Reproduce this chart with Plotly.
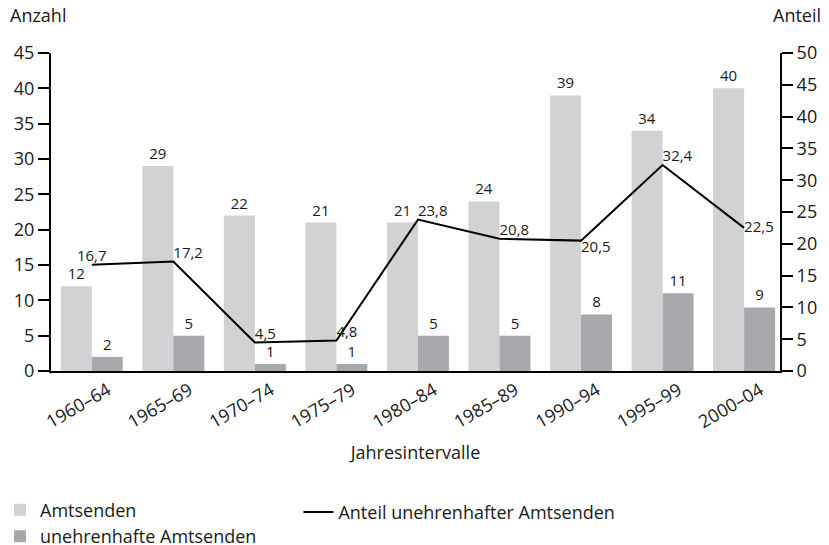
import plotly.graph_objects as go

categories = ["1960–64", "1965–69", "1970–74", "1975–79", "1980–84",
              "1985–89", "1990–94", "1995–99", "2000–04"]
amtsenden = [12, 29, 22, 21, 21, 24, 39, 34, 40]
unehrenhaft = [2, 5, 1, 1, 5, 5, 8, 11, 9]
anteil = [16.7, 17.2, 4.5, 4.8, 23.8, 20.8, 20.5, 32.4, 22.5]
anteil_textpos = ["top center", "top right", "top right", "top right", "top right",
                  "top right", "bottom right", "top right", "middle right"]
left_ticks = list(range(0, 50, 5))
right_ticks = list(range(0, 55, 5))

FONT = "Open Sans"
LIGHT = "#d1d2d4"
DARK = "#a7a8ac"

W, H = 829, 545
ML, MR, MT, MB = 51, 49, 53, 174
PW, PH = W - ML - MR, H - MT - MB


def px_to_paper_x(px):
    return (px - ML) / PW


def px_to_paper_y(py):
    return (H - MB - py) / PH


fig = go.Figure()
fig.add_trace(go.Bar(
    x=categories, y=amtsenden, name="Amtsenden",
    marker=dict(color=LIGHT, line=dict(width=0)),
    text=amtsenden, textposition="outside",
    textfont=dict(size=15, color="#1a1a1a", family=FONT),
    cliponaxis=False, legend="legend", legendrank=1,
))
fig.add_trace(go.Bar(
    x=categories, y=unehrenhaft, name="unehrenhafte Amtsenden",
    marker=dict(color=DARK, line=dict(width=0)),
    text=unehrenhaft, textposition="outside",
    textfont=dict(size=15, color="#1a1a1a", family=FONT),
    cliponaxis=False, legend="legend", legendrank=2,
))
fig.add_trace(go.Scatter(
    x=categories, y=anteil, name="Anteil unehrenhafter Amtsenden",
    yaxis="y2", mode="lines+text",
    line=dict(color="black", width=2),
    texttemplate="%{y:.1f}", textposition=anteil_textpos,
    textfont=dict(size=15, color="#1a1a1a", family=FONT),
    cliponaxis=False, legend="legend2",
))

axis_common = dict(
    showline=True, linecolor="black", linewidth=2,
    ticks="outside", ticklen=11, tickwidth=2, tickcolor="black",
    showgrid=False, zeroline=False, automargin=False,
    tickfont=dict(size=18, color="#1a1a1a", family=FONT),
)

fig.update_layout(
    width=W, height=H,
    margin=dict(l=ML, r=MR, t=MT, b=MB, autoexpand=False),
    paper_bgcolor="white", plot_bgcolor="white",
    font=dict(family=FONT, size=18, color="#1a1a1a"),
    separators=",.",
    barmode="group", bargap=0.24, bargroupgap=0,
    uniformtext=dict(minsize=15, mode="show"),
    xaxis=dict(
        type="category", range=[-0.5, 8.44], automargin=False,
        showline=True, linecolor="black", linewidth=2,
        ticks="", showgrid=False, zeroline=False,
        tickangle=-30, ticklabelshift=16,
        tickfont=dict(size=18, color="#1a1a1a", family=FONT),
        title=dict(text="Jahresintervalle", font=dict(size=18, family=FONT), standoff=14),
    ),
    yaxis=dict(range=[0, 45], tickvals=left_ticks, **axis_common),
    yaxis2=dict(range=[0, 50], tickvals=right_ticks, overlaying="y", side="right",
                **axis_common),
    legend=dict(
        xref="container", yref="container", x=0.0, y=0.098,
        xanchor="left", yanchor="top", orientation="v",
        font=dict(size=18, family=FONT), tracegroupgap=0,
        bgcolor="rgba(0,0,0,0)", traceorder="normal",
    ),
    legend2=dict(
        xref="container", yref="container", x=0.36, y=0.094,
        xanchor="left", yanchor="top", orientation="v",
        font=dict(size=18, family=FONT),
        bgcolor="rgba(0,0,0,0)",
    ),
    annotations=[
        dict(text="Anzahl", xref="paper", yref="paper",
             x=px_to_paper_x(8), y=px_to_paper_y(1),
             xanchor="left", yanchor="top", showarrow=False,
             font=dict(size=18, family=FONT)),
        dict(text="Anteil", xref="paper", yref="paper",
             x=px_to_paper_x(823), y=px_to_paper_y(1),
             xanchor="right", yanchor="top", showarrow=False,
             font=dict(size=18, family=FONT)),
    ],
)

fig.write_html("out.html", config={"displayModeBar": False},
               post_script="document.body.style.margin='0';")
